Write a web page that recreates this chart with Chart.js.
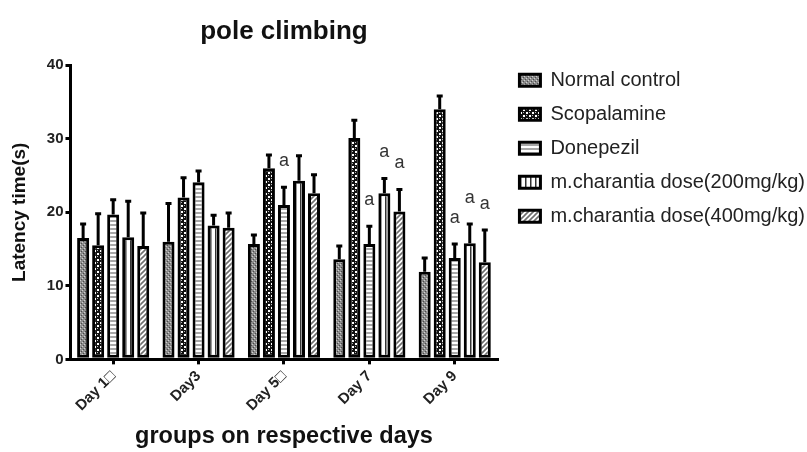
<!DOCTYPE html>
<html>
<head>
<meta charset="utf-8">
<script src="https://cdn.jsdelivr.net/npm/chart.js@4.4.1/dist/chart.umd.min.js"></script>
<style>
  html, body { margin: 0; padding: 0; background: #fff; }
  canvas { display: block; }
</style>
</head>
<body>
<canvas id="chart" width="807" height="452"></canvas>
<script>
// values (mean, and the upper error bar length)
const days = ['Day 1\u25A1', 'Day3', 'Day 5\u25A1', 'Day 7', 'Day 9'];

const normalControl = [16.5, 16.0, 15.7, 13.6, 11.9];
const normalControlErr = [1.9, 5.2, 1.2, 1.8, 1.9];

const scopalamine = [15.5, 22.0, 26.0, 30.1, 34.0];
const scopalamineErr = [4.3, 2.7, 1.8, 2.4, 1.8];

const donepezil = [19.7, 24.1, 21.0, 15.7, 13.8];
const donepezilErr = [2.0, 1.5, 2.4, 2.4, 1.9];
const donepezilMarks = ['', '', 'a', 'a', 'a'];

const dose200 = [16.6, 18.2, 24.3, 22.6, 15.8];
const dose200Err = [4.9, 1.4, 3.4, 2.0, 2.6];
const dose200Marks = ['', '', '', 'a', 'a'];

const dose400 = [15.4, 17.9, 22.6, 20.1, 13.2];
const dose400Err = [4.5, 2.0, 2.5, 3.0, 4.4];
const dose400Marks = ['', '', '', 'a', 'a'];

const yTicks = [0, 10, 20, 30, 40];

const FONT = '"Liberation Sans", Arial, sans-serif';
const canvas = document.getElementById('chart');
const mainCtx = canvas.getContext('2d');

// small tiles used as bar fills
function tile(w, h, paint) {
  const c = document.createElement('canvas');
  c.width = w; c.height = h;
  paint(c.getContext('2d'), w, h);
  return mainCtx.createPattern(c, 'repeat');
}

const stipple = tile(4, 4, (g) => {
  g.fillStyle = '#8c8c8c'; g.fillRect(0, 0, 4, 4);
  g.fillStyle = '#cfcfcf'; g.fillRect(0, 0, 1, 1); g.fillRect(2, 2, 1, 1);
  g.fillStyle = '#4a4a4a'; g.fillRect(1, 3, 1, 1); g.fillRect(3, 1, 1, 1);
});
const dots = tile(6, 6, (g) => {
  g.fillStyle = '#111'; g.fillRect(0, 0, 6, 6);
  g.fillStyle = '#fff'; g.fillRect(1, 1, 2, 2); g.fillRect(4, 4, 2, 2);
  g.fillStyle = '#bbb'; g.fillRect(4, 1, 1, 1); g.fillRect(1, 4, 1, 1);
});
const hStripes = tile(4, 4, (g) => {
  g.fillStyle = '#fff'; g.fillRect(0, 0, 4, 4);
  g.fillStyle = '#a8a8a8'; g.fillRect(0, 0, 4, 2);
});
const vStripes = tile(5, 4, (g) => {
  g.fillStyle = '#fff'; g.fillRect(0, 0, 5, 4);
  g.fillStyle = '#333'; g.fillRect(0, 0, 1.5, 4);
});
const diag = tile(5, 5, (g) => {
  g.fillStyle = '#fff'; g.fillRect(0, 0, 5, 5);
  g.strokeStyle = '#6e6e6e'; g.lineWidth = 1.6;
  g.beginPath();
  g.moveTo(-1, 6); g.lineTo(6, -1);
  g.moveTo(-1, 1); g.lineTo(1, -1);
  g.moveTo(4, 6); g.lineTo(6, 4);
  g.stroke();
});

function series(label, data, err, marks, fill) {
  return {
    label, data, err, marks,
    backgroundColor: fill,
    borderColor: '#000',
    borderWidth: 3,
    borderSkipped: false,
    categoryPercentage: 0.88,
    barPercentage: 0.8
  };
}

const errorBars = {
  id: 'errorBars',
  afterDatasetsDraw(chart) {
    const ctx = chart.ctx;
    const yScale = chart.scales.y;
    ctx.save();
    chart.data.datasets.forEach((ds, i) => {
      const meta = chart.getDatasetMeta(i);
      meta.data.forEach((bar, j) => {
        const top = yScale.getPixelForValue(ds.data[j] + ds.err[j]);
        ctx.strokeStyle = '#000';
        ctx.lineWidth = 3;
        ctx.beginPath();
        ctx.moveTo(bar.x, bar.y);
        ctx.lineTo(bar.x, top);
        ctx.moveTo(bar.x - 3, top);
        ctx.lineTo(bar.x + 3, top);
        ctx.stroke();
        const mark = ds.marks && ds.marks[j];
        if (mark) {
          ctx.fillStyle = '#333';
          ctx.font = '18px ' + FONT;
          ctx.textAlign = 'center';
          ctx.textBaseline = 'middle';
          ctx.fillText(mark, bar.x, top - 26);
        }
      });
    });
    ctx.restore();
  }
};

// move the legend up/right so it lines up with the original figure
const legendNudge = {
  id: 'legendNudge',
  afterLayout(chart) {
    const lg = chart.legend;
    lg.top -= 9;
    lg.bottom -= 9;
    lg.left += 8;
    lg.right += 8;
  }
};

new Chart(canvas, {
  type: 'bar',
  data: {
    labels: days,
    datasets: [
      series('Normal control', normalControl, normalControlErr, null, stipple),
      series('Scopalamine', scopalamine, scopalamineErr, null, dots),
      series('Donepezil', donepezil, donepezilErr, donepezilMarks, hStripes),
      series('m.charantia dose(200mg/kg)', dose200, dose200Err, dose200Marks, vStripes),
      series('m.charantia dose(400mg/kg)', dose400, dose400Err, dose400Marks, diag)
    ]
  },
  options: {
    responsive: false,
    animation: false,
    plugins: {
      title: {
        display: true,
        text: 'pole climbing',
        fullSize: false,
        color: '#111',
        font: { family: FONT, size: 26, weight: 'bold' },
        padding: { top: 16, bottom: 18 }
      },
      legend: {
        position: 'right',
        align: 'start',
        fullSize: false,
        maxWidth: 340,
        labels: {
          color: '#222',
          font: { family: FONT, size: 20 },
          boxWidth: 21,
          boxHeight: 12,
          padding: 14
        }
      },
      tooltip: { enabled: false }
    },
    scales: {
      x: {
        grid: {
          display: true,
          offset: false,
          drawOnChartArea: false,
          tickLength: 5,
          lineWidth: 3,
          color: '#000'
        },
        border: { display: true, width: 3, color: '#000' },
        ticks: {
          color: '#222',
          font: { family: FONT, size: 15, weight: 'bold' },
          minRotation: 45,
          maxRotation: 45,
          padding: 3
        },
        title: {
          display: true,
          text: 'groups on respective days',
          color: '#111',
          font: { family: FONT, size: 23.5, weight: 'bold' },
          padding: { top: 5, bottom: 1 }
        }
      },
      y: {
        min: 0,
        max: 40,
        afterBuildTicks(scale) {
          scale.ticks = yTicks.map(v => ({ value: v }));
        },
        grid: {
          display: true,
          drawOnChartArea: false,
          tickLength: 5,
          lineWidth: 3,
          color: '#000'
        },
        border: { display: true, width: 3, color: '#000' },
        ticks: {
          color: '#222',
          font: { family: FONT, size: 15, weight: 'bold' },
          padding: 2
        },
        title: {
          display: true,
          text: 'Latency time(s)',
          color: '#111',
          font: { family: FONT, size: 19, weight: 'bold' },
          padding: { top: 8, bottom: 14 }
        }
      }
    }
  },
  plugins: [errorBars, legendNudge]
});
</script>
</body>
</html>
